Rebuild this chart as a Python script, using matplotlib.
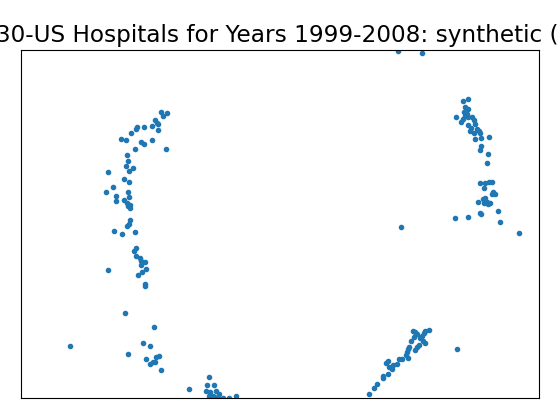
import matplotlib
matplotlib.use("Agg")
import matplotlib.pyplot as plt

title = "Diabetes 130-US Hospitals for Years 1999-2008: synthetic (n = 10000)"

# embedding coordinates
x = [2.806, 2.92, 2.834, 2.676, 2.714, 2.74, 2.746, 2.61, 2.466, 2.31,
     2.29, 2.206, 2.006, 2.106, 2.40, 2.464, 2.626, 2.904, 2.286, 2.126,
     2.146, 2.10, 2.244, 2.166, 1.73, 2.066, 2.15, 1.846, 1.704, 2.146,
     1.906, 2.154, 1.90, 2.066, 2.11, 2.17, 2.17, 2.13, 2.186, 2.166,
     2.114, 1.866, 2.026, 2.286, 2.304, 2.26, 2.29, 2.37, 2.40, 2.48,
     2.39, 2.49, 2.41, 2.344, 1.746, 2.486, 2.486, 2.086, 2.666, 0.986,
     2.44, 2.586, 2.146, 2.506, 2.70, 2.766, 2.68, 2.58, 2.634, 2.806,
     3.366, 3.75, 3.71, 3.86, 3.696, 3.786, 3.89, 3.966, 3.836, 3.94,
     3.854, 3.76, 4.046, 4.166, 4.304, 3.92,
     7.546, 8.026,
     8.844, 8.946, 8.884, 8.946, 8.854, 8.914, 8.70, 8.796, 8.834, 8.88,
     8.946, 9.02, 9.06, 8.93, 9.08, 9.004, 9.11, 8.98, 9.16, 9.06,
     9.18, 9.364, 9.08, 9.206, 9.19, 9.18, 9.346, 9.326, 9.17, 9.286,
     9.37, 9.414, 9.25, 9.436, 9.48, 9.414, 9.28, 9.23, 9.146, 9.314,
     9.386, 9.34, 9.266, 9.546, 9.586, 9.186, 9.20, 8.946, 8.684, 9.966,
     7.60,
     8.166, 8.074, 7.846, 7.886, 7.926, 8.014, 7.86, 7.794, 7.98, 8.034,
     8.086, 7.966, 7.914, 7.874, 7.766, 7.734, 7.714, 7.70, 7.734, 7.56,
     7.514, 7.446, 7.346, 7.30, 7.366, 7.414, 7.346, 7.246, 7.246, 7.126,
     7.06, 6.966, 8.726, 8.066, 7.62]
y = [5.71, 5.694, 5.634, 5.56, 5.506, 5.47, 5.356, 5.44, 5.414, 5.414,
     5.38, 5.294, 5.174, 5.15, 5.12, 5.08, 5.154, 4.974, 4.974, 4.856,
     4.746, 4.636, 4.594, 4.536, 4.516, 4.374, 4.316, 4.214, 4.116, 4.114,
     4.034, 4.026, 3.93, 3.96, 3.894, 3.86, 3.794, 3.84, 3.56, 3.474,
     3.43, 3.334, 3.276, 3.314, 2.998, 2.932, 2.84, 2.794, 2.74, 2.72,
     2.66, 2.574, 2.52, 2.456, 2.556, 2.274, 2.23, 1.694, 1.414, 1.034,
     1.094, 1.034, 0.874, 0.78, 0.826, 0.834, 0.726, 0.68, 0.714, 0.554,
     0.174, 0.414, 0.26, 0.254, 0.13, 0.11, 0.14, 0.084, 0.034, 0.02,
     0.01, 0.04, -0.006, 0.004, 0.04, -0.02,
     6.93, 6.894,
     5.936, 5.976, 5.816, 5.774, 5.714, 5.674, 5.614, 5.526, 5.58, 5.646,
     5.626, 5.61, 5.56, 5.456, 5.47, 5.40, 5.376, 5.346, 5.34, 5.294,
     5.294, 5.214, 5.186, 5.194, 5.04, 4.96, 4.874, 4.694, 4.294, 4.306,
     4.326, 4.31, 4.20, 4.11, 4.08, 4.07, 4.006, 3.974, 3.926, 3.91,
     3.90, 3.884, 3.90, 3.73, 3.514, 3.694, 3.67, 3.614, 3.594, 3.294,
     3.414,
     1.36, 1.334, 1.34, 1.31, 1.274, 1.24, 1.226, 1.146, 1.194, 1.146,
     1.106, 1.06, 1.026, 0.96, 1.026, 0.974, 0.926, 0.86, 0.794, 0.774,
     0.68, 0.66, 0.74, 0.694, 0.626, 0.574, 0.48, 0.44, 0.394, 0.28,
     0.194, 0.074, 0.974, 1.29, 0.78]

fig, ax = plt.subplots(figsize=(5.6, 4.2), dpi=100)
fig.subplots_adjust(left=0.0375, right=0.9625, bottom=0.0524, top=0.881)

ax.scatter(x, y, s=9, color='tab:blue')
ax.set_xlim(0, 10.36)
ax.set_ylim(0, 6.96)
ax.set_xticks([])
ax.set_yticks([])
ax.set_title(title, fontsize=16.65)

plt.savefig('out.png', dpi=100)
